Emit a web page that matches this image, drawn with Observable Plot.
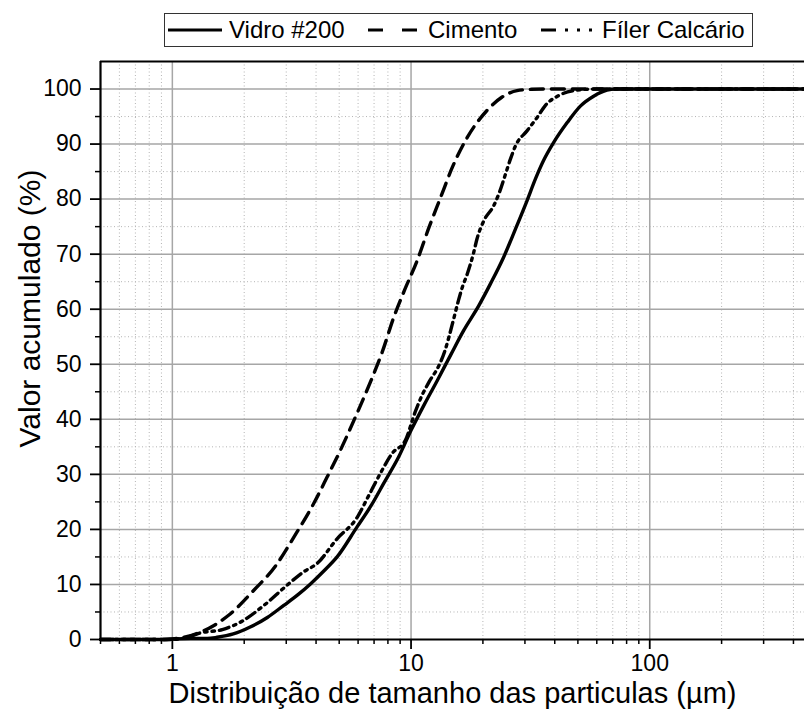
<!DOCTYPE html>
<html>
<head>
<meta charset="utf-8">
<script src="https://cdn.jsdelivr.net/npm/d3@7"></script>
<script src="https://cdn.jsdelivr.net/npm/@observablehq/plot@0.6"></script>
<style>
  body { margin: 0; background: #fff; overflow: hidden; }
  #legend { position: relative; height: 50px; font-family: Arial, "Liberation Sans", sans-serif; font-size: 24px; color: #000; }
  #legend .box { position: absolute; left: 164px; top: 13px; width: 587px; height: 32px; border: 1px solid #333; }
  #legend .item { position: absolute; top: 0; height: 32px; display: flex; align-items: center; white-space: nowrap; }
  #legend svg { display: block; }
</style>
</head>
<body>
<div id="legend"><div class="box"></div></div>
<div id="chart"></div>
<script>
// ---- data ----
const seriesNames = ["Vidro #200", "Cimento", "Fíler Calcário"];

const vidroX = [0.5, 0.9, 1.0, 1.2, 1.4, 1.54, 1.8, 2.13, 2.5, 2.93, 3.35, 3.79, 4.3, 4.9, 5.95, 6.8, 7.69, 8.88, 10.0, 11.4, 12.9, 14.7, 16.6, 19.2, 21.5, 24.4, 27.4, 30.6, 33.3, 35.9, 39.6, 45.1, 51.2, 58.2, 66.2, 72, 100, 445];
const vidroY = [0, 0, 0.1, 0.2, 0.2, 0.4, 1.0, 2.3, 4.0, 6.2, 8.1, 10.1, 12.4, 15.0, 20.5, 24.3, 28.4, 33.2, 38.0, 42.8, 47.1, 51.8, 56.1, 60.6, 64.6, 69.4, 74.6, 79.7, 83.8, 87.0, 90.3, 93.9, 96.9, 98.7, 99.8, 100, 100, 100];

const cimentoX = [0.5, 0.95, 1.05, 1.27, 1.5, 1.72, 2.19, 2.71, 3.23, 3.91, 4.45, 5.06, 5.9, 6.76, 7.57, 8.46, 9.4, 10.6, 11.9, 13.3, 14.9, 17.2, 20.8, 24.0, 27.8, 32, 37.2, 445];
const cimentoY = [0, 0, 0.2, 1.1, 2.6, 4.4, 8.9, 13.4, 18.6, 24.7, 29.5, 34.4, 40.8, 46.8, 52.2, 58.5, 63.5, 68.8, 74.9, 80.3, 85.8, 91.2, 96.1, 98.5, 99.7, 99.95, 100, 100];

const filerX = [0.5, 1.0, 1.15, 1.31, 1.62, 1.99, 2.42, 3.03, 3.55, 4.04, 4.9, 5.95, 6.55, 7.55, 8.33, 9.47, 10.4, 11.1, 11.9, 13.1, 13.9, 14.4, 15.1, 15.8, 16.4, 17.2, 18.3, 18.9, 20.2, 22.2, 23.3, 24.9, 26.1, 27.4, 30.6, 33.7, 36.5, 41.5, 49.6, 60, 445];
const filerY = [0, 0, 0.4, 1.2, 1.8, 3.5, 6.2, 9.9, 12.3, 13.8, 18.3, 22.2, 25.6, 30.7, 33.8, 36.2, 41.3, 44.3, 46.8, 49.8, 52.6, 54.9, 58.3, 61.6, 64.0, 66.4, 70.3, 72.8, 76.1, 78.8, 80.9, 84.6, 87.3, 89.7, 92.4, 94.8, 97.0, 98.8, 99.8, 100, 100];

const xMajorTicks = [1, 10, 100];
const xMinorTicks = [0.5, 0.6, 0.7, 0.8, 0.9, 2, 3, 4, 5, 6, 7, 8, 9, 20, 30, 40, 50, 60, 70, 80, 90, 200, 300, 400];
const yMajorTicks = [0, 10, 20, 30, 40, 50, 60, 70, 80, 90, 100];
const yMinorTicks = [5, 15, 25, 35, 45, 55, 65, 75, 85, 95];

const xLabel = "Distribuição de tamanho das particulas (µm)";
const yLabel = "Valor acumulado (%)";

// ---- build ----
const dashes = ["none", "13,8", "10,5,2.5,5,2.5,5"];
const legendDashes = ["none", "15,19", "15,9,3,9,3,9,3,20"];
const toRows = (name, xs, ys) => xs.map((x, i) => ({series: name, x, y: ys[i]}));
const rows = [
  toRows(seriesNames[0], vidroX, vidroY),
  toRows(seriesNames[1], cimentoX, cimentoY),
  toRows(seriesNames[2], filerX, filerY)
];

// legend (HTML above the SVG)
const legendBox = document.querySelector("#legend .box");
const itemLefts = [3, 203, 376];
const sampleW = [54, 49, 51];
const sampleGap = [7, 11, 10];
seriesNames.forEach((name, i) => {
  const item = document.createElement("div");
  item.className = "item";
  item.style.left = itemLefts[i] + "px";
  item.innerHTML = `<svg width="${sampleW[i]}" height="10"><line x1="0" x2="${sampleW[i]}" y1="5" y2="5" stroke="#000" stroke-width="3.2" ${legendDashes[i] !== "none" ? `stroke-dasharray="${legendDashes[i]}"` : ""}/></svg><span style="margin-left:${sampleGap[i]}px">${name}</span>`;
  legendBox.appendChild(item);
});

const gridMajor = "#a6a6a6";
const gridMinor = "#b4b4b4";

const chart = Plot.plot({
  width: 804,
  height: 666,
  marginTop: 11,
  marginBottom: 77,
  marginLeft: 100,
  marginRight: 0,
  style: {fontFamily: "Arial, 'Liberation Sans', sans-serif", color: "#000", background: "#fff"},
  x: {type: "log", domain: [0.5, 445]},
  y: {domain: [0, 105]},
  marks: [
    Plot.ruleX(xMinorTicks.filter(d => d !== 0.5), {stroke: gridMinor, strokeWidth: 1, strokeDasharray: "1,2.5"}),
    Plot.ruleY(yMinorTicks, {stroke: gridMinor, strokeWidth: 1, strokeDasharray: "1,2.5"}),
    Plot.ruleX(xMajorTicks, {stroke: gridMajor, strokeWidth: 1.5}),
    Plot.ruleY(yMajorTicks.filter(d => d !== 0), {stroke: gridMajor, strokeWidth: 1.5}),
    ...rows.map((r, i) => Plot.line(r, {x: "x", y: "y", stroke: "#000", strokeWidth: 3.4, strokeDasharray: dashes[i] === "none" ? undefined : dashes[i], curve: "monotone-x"})),
    Plot.ruleY([0], {stroke: "#000", strokeWidth: 2.2}),
    Plot.ruleY([105], {stroke: "#000", strokeWidth: 2.2}),
    Plot.ruleX([0.5], {stroke: "#000", strokeWidth: 2.2}),
    Plot.axisX({ticks: xMajorTicks, tickSize: 10, tickPadding: 5, fontSize: 23, strokeWidth: 1.8, tickFormat: d => String(d), label: null}),
    Plot.axisX({ticks: xMinorTicks, tickSize: 5, strokeWidth: 1.5, tickFormat: () => "", label: null}),
    Plot.axisY({ticks: yMajorTicks, tickSize: 10, tickPadding: 9, fontSize: 23, strokeWidth: 1.8, tickFormat: d => String(d), label: null}),
    Plot.axisY({ticks: yMinorTicks, tickSize: 5, strokeWidth: 1.5, tickFormat: () => "", label: null}),
    Plot.text([xLabel], {text: d => d, frameAnchor: "bottom", textAnchor: "middle", dy: 54, fontSize: 29, lineAnchor: "middle"}),
    Plot.text([yLabel], {text: d => d, frameAnchor: "left", textAnchor: "middle", dx: -70, dy: -42, rotate: -90, fontSize: 30, lineAnchor: "middle"})
  ]
});
document.getElementById("chart").appendChild(chart);
</script>
</body>
</html>
